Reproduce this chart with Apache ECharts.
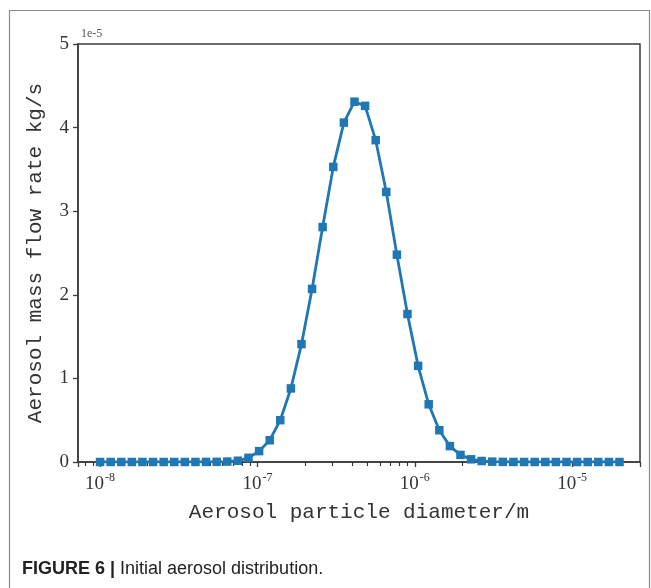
<!DOCTYPE html>
<html>
<head>
<meta charset="utf-8">
<script src="https://cdn.jsdelivr.net/npm/echarts@6/dist/echarts.min.js"></script>
<style>
  html, body { margin: 0; padding: 0; background: #fff; }
  #chart { width: 651px; height: 588px; }
</style>
</head>
<body>
<div id="chart"></div>
<script>
// Particle diameters (m)
const diameters = [
  1.000e-8, 1.168e-8, 1.364e-8, 1.592e-8, 1.859e-8, 2.171e-8, 2.536e-8, 2.961e-8, 3.459e-8, 4.040e-8,
  4.717e-8, 5.509e-8, 6.433e-8, 7.513e-8, 8.774e-8, 1.025e-7, 1.197e-7, 1.397e-7, 1.632e-7, 1.906e-7,
  2.225e-7, 2.597e-7, 3.035e-7, 3.544e-7, 4.139e-7, 4.834e-7, 5.644e-7, 6.591e-7, 7.697e-7, 8.986e-7,
  1.050e-6, 1.226e-6, 1.432e-6, 1.672e-6, 1.952e-6, 2.279e-6, 2.661e-6, 3.107e-6, 3.628e-6, 4.237e-6,
  4.952e-6, 5.783e-6, 6.753e-6, 7.885e-6, 9.211e-6, 1.076e-5, 1.256e-5, 1.467e-5, 1.713e-5, 2.000e-5
];
// Aerosol mass flow rate, in units of 1e-5 kg/s
const massFlow = [
  0, 0, 0, 0, 0, 0, 0, 0, 0.0002, 0.0005,
  0.001, 0.002, 0.005, 0.015, 0.05, 0.13, 0.26, 0.50, 0.88, 1.41,
  2.07, 2.81, 3.53, 4.06, 4.31, 4.26, 3.85, 3.23, 2.48, 1.77,
  1.15, 0.69, 0.38, 0.19, 0.085, 0.032, 0.012, 0.004, 0.0015, 0.0005,
  0.0002, 0, 0, 0, 0, 0, 0, 0, 0, 0
];
const yTicks = [0, 1, 2, 3, 4, 5];
const xTitle = 'Aerosol particle diameter/m';
const yTitle = 'Aerosol mass flow rate kg/s';
const scaleLabel = '1e-5';
const captionBold = 'FIGURE 6 |';
const captionText = ' Initial aerosol distribution.';

const points = diameters.map((d, i) => [d, massFlow[i]]);

const axisColor = '#3a3a3a';
const serif = "'Liberation Serif', 'DejaVu Serif', serif";
const mono = "'Liberation Mono', 'DejaVu Sans Mono', monospace";

const chart = echarts.init(document.getElementById('chart'), null, { renderer: 'canvas' });
chart.setOption({
  backgroundColor: '#ffffff',
  animation: false,
  grid: {
    left: 78, right: 11, top: 44, bottom: 126,
    show: true, borderColor: axisColor, borderWidth: 1.5, backgroundColor: 'transparent'
  },
  xAxis: {
    type: 'log',
    logBase: 10,
    min: 7.24e-9,
    max: 2.70e-5,
    name: xTitle,
    nameLocation: 'middle',
    nameGap: 40,
    nameTextStyle: { fontFamily: mono, fontSize: 21, color: '#333' },
    axisLine: { show: true, lineStyle: { color: axisColor, width: 1.5 } },
    axisTick: { show: true, inside: false, length: 5, lineStyle: { color: axisColor, width: 1.3 } },
    minorTick: { show: true, splitNumber: 9, length: 4, lineStyle: { color: '#333', width: 1.1 } },
    splitLine: { show: false },
    minorSplitLine: { show: false },
    axisLabel: {
      showMinLabel: false,
      showMaxLabel: false,
      margin: 10,
      color: '#333',
      fontFamily: serif,
      fontSize: 19,
      formatter: function (v) {
        const e = Math.round(Math.log10(v));
        return '10{s|' + String(e) + '}';
      },
      rich: {
        s: { fontFamily: serif, fontSize: 12, color: '#333', verticalAlign: 'top', padding: [0, 0, 12, 1] }
      }
    }
  },
  yAxis: {
    type: 'value',
    min: yTicks[0],
    max: yTicks[yTicks.length - 1],
    interval: 1,
    name: yTitle,
    nameLocation: 'middle',
    nameGap: 32,
    nameRotate: 90,
    nameTextStyle: { fontFamily: mono, fontSize: 21, color: '#333' },
    axisLine: { show: true, lineStyle: { color: axisColor, width: 1.5 } },
    axisTick: { show: true, inside: false, length: 5, lineStyle: { color: axisColor, width: 1.3 } },
    splitLine: { show: false },
    axisLabel: { margin: 9, color: '#333', fontFamily: serif, fontSize: 19 }
  },
  series: [{
    type: 'line',
    data: points,
    symbol: 'rect',
    symbolSize: 8.5,
    showSymbol: true,
    lineStyle: { color: '#1f77b4', width: 2.8 },
    itemStyle: { color: '#1f77b4' },
    z: 3
  }],
  graphic: [
    {
      type: 'rect',
      left: 7, top: 8,
      shape: { width: 640, height: 600 },
      style: { fill: 'none', stroke: '#8a8a8a', lineWidth: 1.2 },
      silent: true, z: -1
    },
    {
      type: 'text',
      left: 81, top: 28,
      style: { text: scaleLabel, fontFamily: serif, fontSize: 12, fill: '#555' }
    },
    {
      type: 'text',
      left: 22, top: 560,
      style: {
        text: '{b|' + captionBold + '}{n|' + captionText + '}',
        rich: {
          b: { fontFamily: "'Liberation Sans Narrow', 'Liberation Sans', sans-serif", fontWeight: 'bold', fontSize: 18, fill: '#222' },
          n: { fontFamily: "'Liberation Sans Narrow', 'Liberation Sans', sans-serif", fontSize: 18, fill: '#222' }
        }
      }
    }
  ]
});
</script>
</body>
</html>
